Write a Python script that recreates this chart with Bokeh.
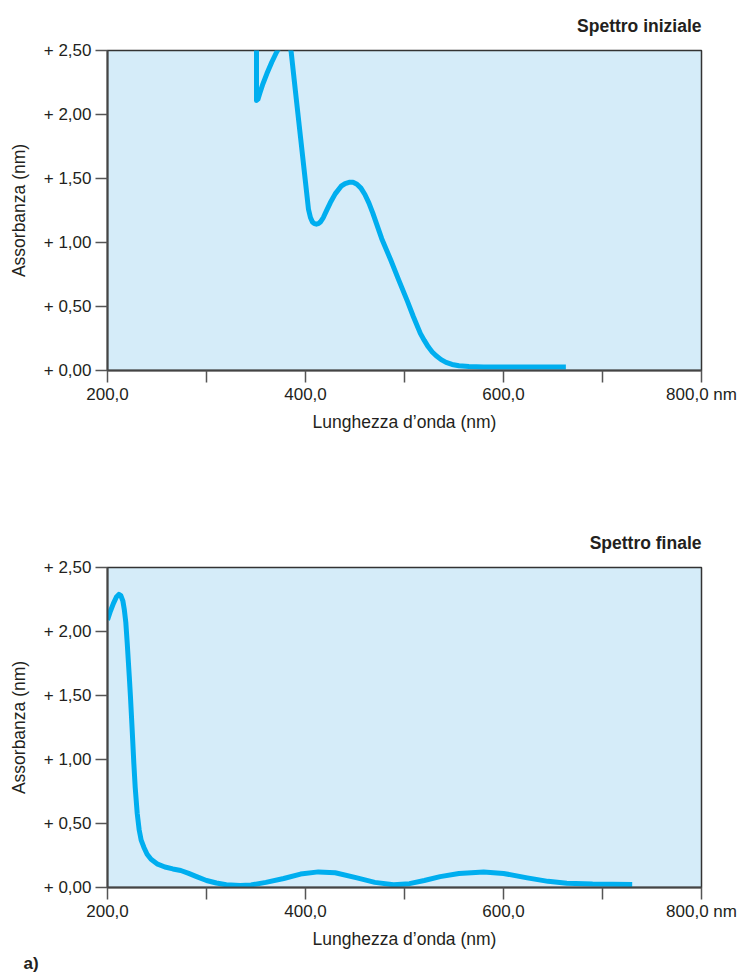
from bokeh.plotting import figure
from bokeh.models import Range1d, FixedTicker, Title
from bokeh.layouts import column
from bokeh.embed import file_html
from bokeh.resources import INLINE

# ---------------- data ----------------
titles = ["Spettro iniziale", "Spettro finale"]
panel_tag = "a)"
x_ticks = [200, 300, 400, 500, 600, 700, 800]
x_labels = ["200,0", "", "400,0", "", "600,0", "", "800,0 nm"]
y_ticks = [0.0, 0.5, 1.0, 1.5, 2.0, 2.5]
y_labels = ["+ 0,00", "+ 0,50", "+ 1,00", "+ 1,50", "+ 2,00", "+ 2,50"]

init_nm = [350.5, 350.5, 352, 354, 357, 361, 366, 371, 376, 380, 383, 385.5,
           390, 395, 400, 403, 405, 407, 409, 411, 413, 415, 418, 421, 425,
           430, 436, 440, 444, 448, 452, 456, 460, 464, 468, 477, 486, 494, 503,
           509, 516, 520, 524, 528, 532, 537, 542, 548, 555, 565, 580, 620, 663]
init_abs = [2.80, 2.11, 2.12, 2.17, 2.24, 2.32, 2.41, 2.49, 2.56, 2.60, 2.58, 2.49,
            2.17, 1.82, 1.47, 1.26, 1.195, 1.16, 1.147, 1.143, 1.147, 1.16, 1.195, 1.245, 1.31,
            1.38, 1.44, 1.46, 1.47, 1.47, 1.455, 1.425, 1.375, 1.31, 1.23, 1.03, 0.865, 0.71, 0.54,
            0.42, 0.29, 0.235, 0.185, 0.145, 0.115, 0.085, 0.063, 0.047, 0.037, 0.031, 0.028, 0.027, 0.027]

fin_nm = [200, 203, 206, 209, 211.5, 213.5, 215.5, 217, 218.5, 220, 222, 223.2, 225,
          226.6, 228, 230, 232, 234, 236.7, 240, 244, 250, 258, 266, 274,
          282, 290, 300, 310, 320, 334, 345, 360, 378, 395, 413, 430, 452,
          470, 489, 505, 520, 536, 555, 580, 600, 624, 645, 664, 690, 730]
fin_abs = [2.09, 2.16, 2.22, 2.27, 2.29, 2.28, 2.24, 2.17, 2.07, 1.90, 1.65, 1.49, 1.22,
           0.97, 0.78, 0.58, 0.45, 0.37, 0.315, 0.26, 0.22, 0.185, 0.16, 0.145, 0.133,
           0.11, 0.085, 0.055, 0.035, 0.022, 0.016, 0.02, 0.04, 0.07, 0.105, 0.122, 0.115, 0.075,
           0.04, 0.022, 0.03, 0.055, 0.085, 0.11, 0.122, 0.11, 0.075, 0.048, 0.034, 0.027, 0.024]

FONT = "Liberation Sans"
TXT = "#231f20"
LINE = "#00aeef"
BG = "#d5ecf9"


def make_fig(height, top, bottom, title, xs, ys, tag=None):
    p = figure(width=737, height=height, output_backend="svg", toolbar_location=None,
               x_range=Range1d(200, 800), y_range=Range1d(0, 2.5),
               min_border_left=107, min_border_right=36,
               min_border_top=top, min_border_bottom=bottom)
    p.background_fill_color = BG
    p.border_fill_color = "white"
    p.outline_line_color = "#333333"
    p.outline_line_width = 1.5
    p.grid.visible = False

    p.title.text = title
    p.title.align = "right"
    p.title.vertical_align = "top"
    p.title.text_font = FONT
    p.title.text_font_size = "17.5px"
    p.title.text_font_style = "bold"
    p.title.text_color = TXT
    p.title.standoff = 26

    xa = p.xaxis[0]
    xa.ticker = FixedTicker(ticks=x_ticks)
    xa.major_label_overrides = {t: l for t, l in zip(x_ticks, x_labels)}
    xa.axis_label = "Lunghezza d\u2019onda (nm)"
    ya = p.yaxis[0]
    ya.ticker = FixedTicker(ticks=y_ticks)
    ya.major_label_overrides = {t: l for t, l in zip(y_ticks, y_labels)}
    ya.axis_label = "Assorbanza (nm)"
    for ax in (xa, ya):
        ax.minor_tick_line_color = None
        ax.major_tick_in = 0
        ax.major_tick_out = 12
        ax.major_tick_line_color = "#555555"
        ax.major_tick_line_width = 1.5
        ax.axis_line_color = "#444444"
        ax.axis_line_width = 2
        ax.major_label_text_font = FONT
        ax.major_label_text_font_size = "17px"
        ax.major_label_text_color = TXT
        ax.axis_label_text_font = FONT
        ax.axis_label_text_font_size = "17.5px"
        ax.axis_label_text_font_style = "normal"
        ax.axis_label_text_color = TXT
    xa.major_label_standoff = 2
    xa.axis_label_standoff = 5
    ya.major_label_standoff = 4
    ya.axis_label_standoff = 12

    p.line(xs, ys, line_color=LINE, line_width=5, line_join="round")

    if tag:
        t = Title(text=tag, align="left", offset=-84, standoff=0,
                  text_font=FONT, text_font_size="17px", text_font_style="bold",
                  text_color=TXT)
        p.add_layout(t, "below")
    return p


p1 = make_fig(456, 50, 86, titles[0], init_nm, init_abs)
p2 = make_fig(516, 111, 85, titles[1], fin_nm, fin_abs, panel_tag)

layout = column(p1, p2, spacing=0)
open("out.html", "w").write(file_html(layout, INLINE))
